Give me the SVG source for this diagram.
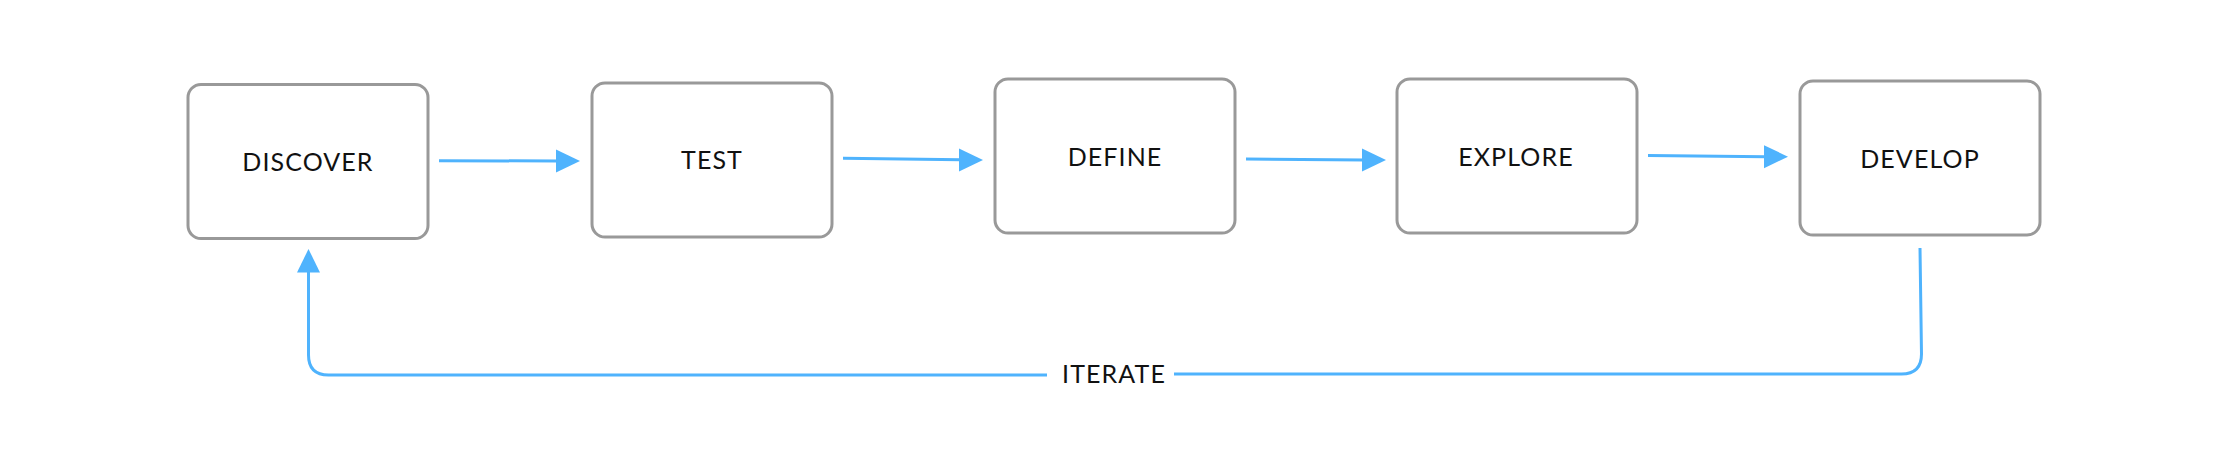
<svg xmlns="http://www.w3.org/2000/svg" width="2228" height="470" viewBox="0 0 2228 470">
  <style>
    .box { fill: #ffffff; stroke: #999999; stroke-width: 3; }
    .lbl { font-family: Lato, "Noto Sans", "Liberation Sans", sans-serif; font-size: 25px; fill: #111111; text-anchor: middle; letter-spacing: 1.1px; }
    .conn { fill: none; stroke: #4fb3fd; stroke-width: 3; }
    .head { fill: #4fb3fd; }
  </style>
  <rect x="0" y="0" width="2228" height="470" fill="#ffffff"/>
  <g id="node-discover">
    <rect class="box" x="188" y="84.5" width="240" height="154" rx="13" ry="13"/>
    <text class="lbl" x="308" y="170.5">DISCOVER</text>
  </g>
  <g id="node-test">
    <rect class="box" x="592" y="83" width="240" height="154" rx="13" ry="13"/>
    <text class="lbl" x="712" y="169">TEST</text>
  </g>
  <g id="node-define">
    <rect class="box" x="995" y="79" width="240" height="154" rx="13" ry="13"/>
    <text class="lbl" x="1115" y="165.5">DEFINE</text>
  </g>
  <g id="node-explore">
    <rect class="box" x="1397" y="79" width="240" height="154" rx="13" ry="13"/>
    <text class="lbl" x="1516" y="165.5">EXPLORE</text>
  </g>
  <g id="node-develop">
    <rect class="box" x="1800" y="81" width="240" height="154" rx="13" ry="13"/>
    <text class="lbl" x="1920" y="167.5">DEVELOP</text>
  </g>
  <g id="connectors">
    <line class="conn" x1="439" y1="160.7" x2="558" y2="161"/>
    <polygon class="head" points="556,149.5 580,161 556,172.5"/>
    <line class="conn" x1="843" y1="158.3" x2="961" y2="159.7"/>
    <polygon class="head" points="959,148.5 983,160 959,171.5"/>
    <line class="conn" x1="1246" y1="159" x2="1364" y2="160"/>
    <polygon class="head" points="1362,148.5 1386,160 1362,171.5"/>
    <line class="conn" x1="1648" y1="155.6" x2="1766" y2="156.7"/>
    <polygon class="head" points="1764,145.2 1788,156.7 1764,168.2"/>
    <path class="conn" d="M1920,248 L1921.5,354 Q1921.5,374 1901.5,374 L1174,374"/>
    <path class="conn" d="M1047,375 L328.5,375 Q308.5,375 308.5,355 L308.5,270"/>
    <polygon class="head" points="297,272.5 308.5,249 320,272.5"/>
    <text class="lbl" x="1114" y="383.3">ITERATE</text>
  </g>
</svg>
